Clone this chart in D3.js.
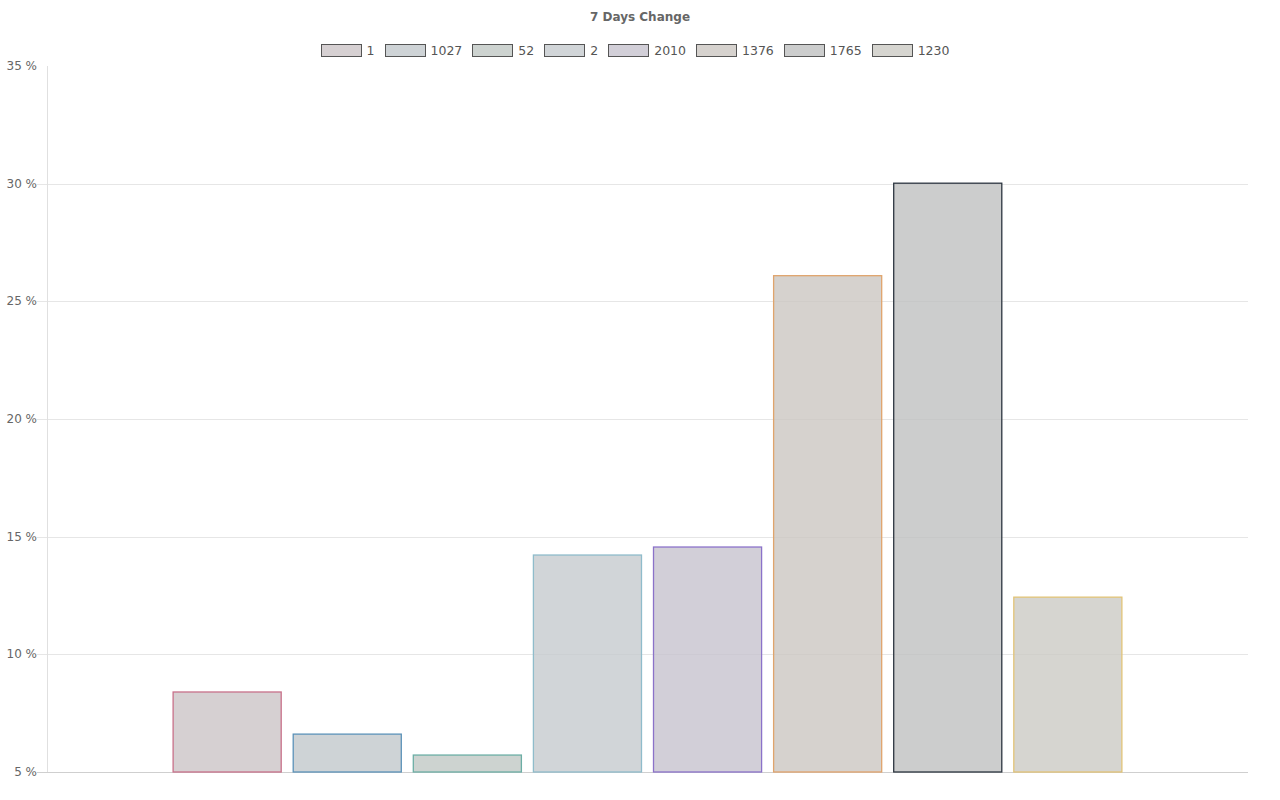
<!DOCTYPE html>
<html>
<head>
<meta charset="utf-8">
<script src="https://cdn.jsdelivr.net/npm/d3@7"></script>
<style>
  body { margin: 0; background: #fff; }
  svg { display: block; font-family: "DejaVu Sans", sans-serif; }
</style>
</head>
<body>
<svg id="chart" width="1280" height="800"></svg>
<script>
// data
const seriesNames = ['1', '1027', '52', '2', '2010', '1376', '1765', '1230'];
const seriesValues = [8.40, 6.61, 5.72, 14.22, 14.56, 26.09, 30.02, 12.43];
const yTicks = [5, 10, 15, 20, 25, 30, 35];

const fillColors = ['#ccc4c7', '#c2c8cc', '#c0c8c4', '#c6cace', '#c7c3ce', '#ccc7c2', '#bfc0c0', '#cccac4'];
const borderColors = ['#c8718a', '#5b92b9', '#6caea5', '#8fbccb', '#8b72c9', '#e0a46c', '#2c3540', '#e2c477'];

const svg = d3.select('#chart');
const plotLeft = 47, plotRight = 1248, plotTop = 66, plotBottom = 772;

const y = d3.scaleLinear().domain([5, 35]).range([plotBottom, plotTop]);

// single category, 8 datasets (chart.js style: 80% category, 90% bar)
const catWidth = (plotRight - plotLeft) * 0.8;
const x = d3.scaleBand()
    .domain(seriesNames)
    .range([plotLeft + (plotRight - plotLeft - catWidth) / 2, plotLeft + (plotRight - plotLeft + catWidth) / 2])
    .paddingInner(0.1).paddingOuter(0.05);

// title
svg.append('text')
    .attr('x', 640).attr('y', 21)
    .attr('text-anchor', 'middle')
    .style('font-size', '12px').style('font-weight', 'bold')
    .style('fill', '#666')
    .text('7 Days Change');

// grid
const grid = svg.append('g');
yTicks.forEach(t => {
    if (t === 35) return;
    grid.append('line')
        .attr('x1', plotLeft - 10).attr('x2', plotRight)
        .attr('y1', Math.round(y(t)) + 0.5).attr('y2', Math.round(y(t)) + 0.5)
        .style('stroke', t === 5 ? '#cfcfcf' : '#e6e6e6')
        .style('stroke-width', 1);
});
grid.append('line')
    .attr('x1', plotLeft + 0.5).attr('x2', plotLeft + 0.5)
    .attr('y1', plotTop).attr('y2', plotBottom)
    .style('stroke', '#e0e0e0');

// y labels
svg.append('g').selectAll('text')
    .data(yTicks)
    .join('text')
    .attr('x', 37).attr('y', d => y(d) + 4)
    .attr('text-anchor', 'end')
    .style('font-size', '12px').style('fill', '#666')
    .text(d => d + ' %');

// bars
svg.append('g').selectAll('rect')
    .data(seriesValues)
    .join('rect')
    .attr('x', (d, i) => x(seriesNames[i]))
    .attr('width', x.bandwidth())
    .attr('y', d => y(d))
    .attr('height', d => y(5) - y(d))
    .style('fill', (d, i) => fillColors[i])
    .style('fill-opacity', 0.8)
    .style('stroke', (d, i) => borderColors[i])
    .style('stroke-width', 1.3);

// legend
const legend = svg.append('g');
const boxW = 40, boxH = 12, gap = 10, fontSize = 12.5;
const tmp = svg.append('text').style('font-size', fontSize + 'px');
const widths = seriesNames.map(n => {
    tmp.text(n);
    return boxW + 6 + tmp.node().getComputedTextLength();
});
tmp.remove();
const total = d3.sum(widths) + gap * (widths.length - 1);
let lx = 635 - total / 2;
seriesNames.forEach((n, i) => {
    legend.append('rect')
        .attr('x', Math.round(lx) + 0.5).attr('y', 44.5)
        .attr('width', boxW).attr('height', boxH)
        .style('fill', fillColors[i]).style('fill-opacity', 0.8)
        .style('stroke', '#555').style('stroke-width', 1);
    legend.append('text')
        .attr('x', lx + boxW + 6).attr('y', 55)
        .style('font-size', fontSize + 'px').style('fill', '#555')
        .text(n);
    lx += widths[i] + gap;
});
</script>
</body>
</html>
